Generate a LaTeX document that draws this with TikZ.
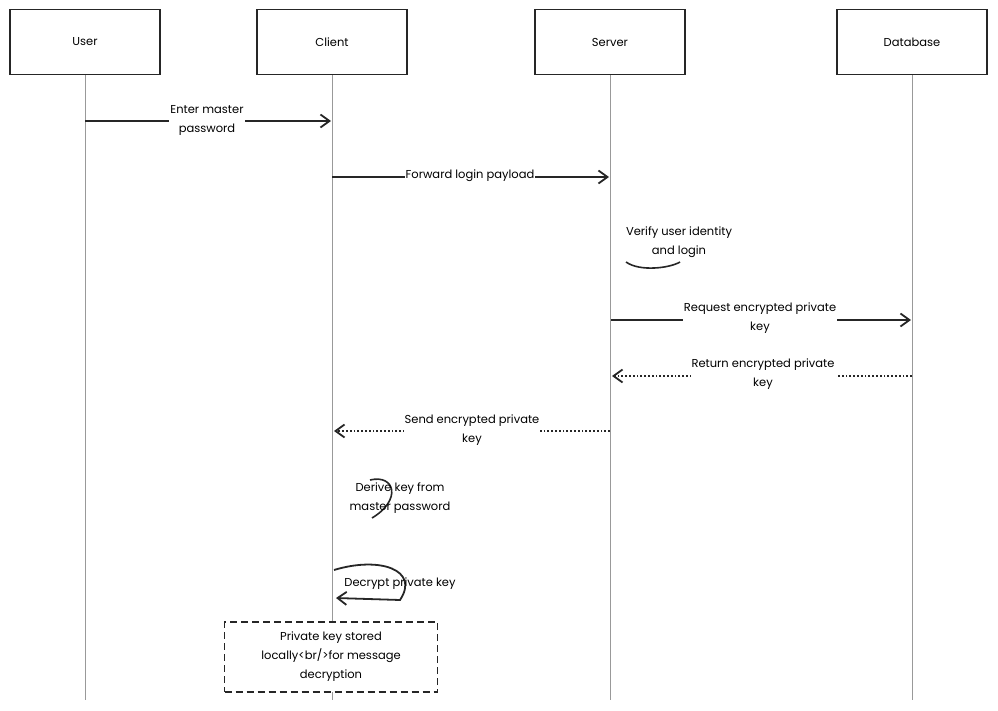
\documentclass[tikz,border=0pt]{standalone}
\usepackage{fontspec}
\setmainfont{Poppins}
\usetikzlibrary{arrows.meta,positioning}
\begin{document}
\begin{tikzpicture}[
	x=1pt, y=-1pt,
	every node/.style={font=\fontsize{11.5}{19}\selectfont, align=center},
	actor/.style={shape=rectangle, draw=black!85, line width=1.6pt, minimum width=150pt, minimum height=65pt},
	life/.style={draw=black!40, line width=0.6pt},
	msg/.style={draw=black!85, line width=1.8pt, -{Straight Barb[length=9pt,width=13pt]}},
	reply/.style={draw=black!85, line width=1.8pt, dotted, -{Straight Barb[length=9pt,width=13pt]}},
	lbl/.style={fill=white, inner sep=1pt},
]
\useasboundingbox (0,0) rectangle (998,711);
% actors
\node[actor] (user) at (85,42) {User};
\node[actor] (client) at (332,42) {Client};
\node[actor] (server) at (610,42) {Server};
\node[actor] (db) at (912,42) {Database};
% lifelines
\foreach \a/\x in {user/85, client/332, server/610, db/912}
  \draw[life] (\a.south) -- (\x,700);
% messages
\coordinate (m1a) at (85,121); \coordinate (m1b) at (331,121);
\draw[msg] (m1a) -- (m1b);
\node[lbl] at (207,120) {Enter master\\password};
\coordinate (m2a) at (332,177); \coordinate (m2b) at (609,177);
\draw[msg] (m2a) -- (m2b);
\node[lbl] at (470,176) {Forward login payload};
\coordinate (m3a) at (626,262);
\draw[draw=black!85, line width=1.6pt] (m3a) .. controls (640,272) and (670,268) .. (680,262);
\node[lbl] at (679,242) {Verify user identity\\and login};
\coordinate (m4a) at (611,320); \coordinate (m4b) at (911,320);
\draw[msg] (m4a) -- (m4b);
\node[lbl] at (760,318) {Request encrypted private\\key};
\coordinate (m5a) at (912,376); \coordinate (m5b) at (612,376);
\draw[reply] (m5a) -- (m5b);
\node[lbl] at (763,374) {Return encrypted private\\key};
\coordinate (m6a) at (610,431); \coordinate (m6b) at (334,431);
\draw[reply] (m6a) -- (m6b);
\node[lbl] at (472,430) {Send encrypted private\\key};
\coordinate (m7a) at (370,480);
\draw[draw=black!85, line width=1.6pt] (m7a) .. controls (395,474) and (402,500) .. (372,518);
\node[lbl, fill=none] at (400,498) {Derive key from\\master password};
\coordinate (m8a) at (334,570); \coordinate (m8b) at (336,598);
\draw[msg] (m8a) .. controls (380,556) and (420,570) .. (400,600) -- (m8b);
\node[lbl, fill=none] at (400,584) {Decrypt private key};
% note
\node[draw=black!85, dash pattern=on 7pt off 4pt, line width=1.6pt, minimum width=213pt, minimum height=70pt, fill=white] (note) at (331,657) {Private key stored\\locally<br/>for message\\decryption};
\end{tikzpicture}
\end{document}
